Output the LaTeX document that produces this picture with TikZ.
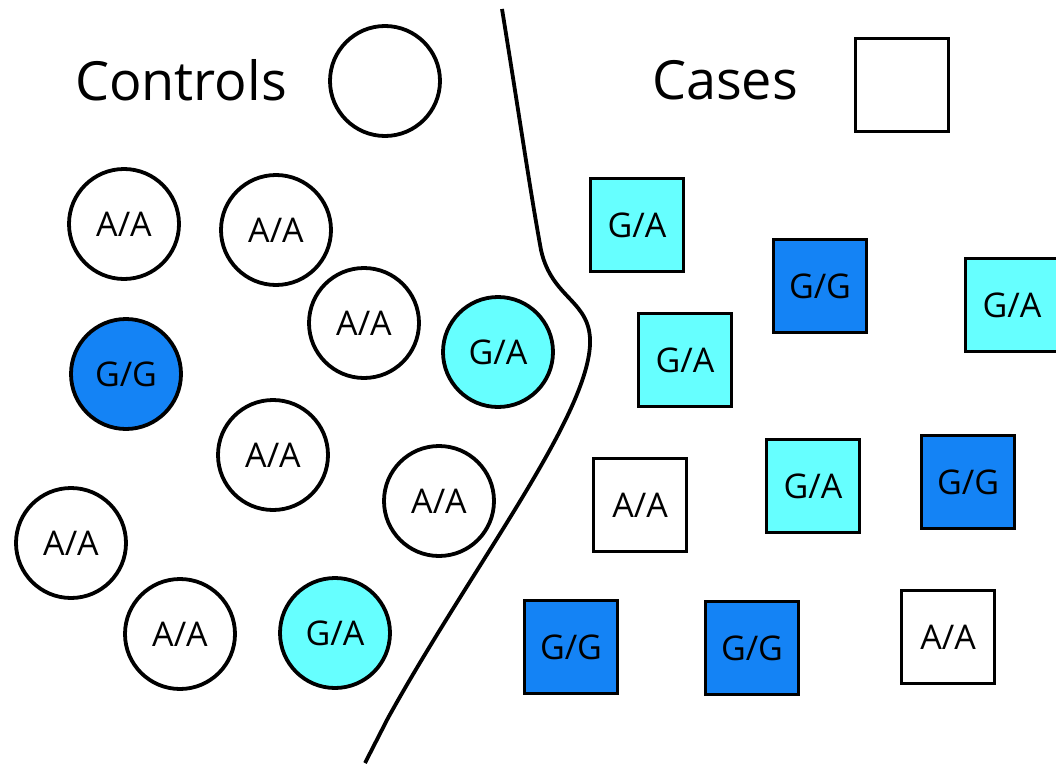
\documentclass[tikz,border=0pt]{standalone}
\usepackage{fontspec}
\setmainfont{Open Sans}
\definecolor{cyanfill}{HTML}{66FFFF}
\definecolor{bluefill}{HTML}{1483F5}
\tikzset{
  ctrl/.style={circle,draw=black,line width=3.8pt,minimum size=110pt,inner sep=0pt,font=\fontsize{34}{38}\selectfont},
  cas/.style={rectangle,draw=black,line width=3.8pt,minimum size=93pt,inner sep=0pt,font=\fontsize{34}{38}\selectfont},
  aa/.style={fill=white},
  ga/.style={fill=cyanfill},
  gg/.style={fill=bluefill},
  title/.style={font=\fontsize{54}{60}\selectfont,inner sep=0pt},
  divider/.style={draw=black,line width=3.8pt}
}
\begin{document}
\begin{tikzpicture}[x=1pt,y=-1pt]
\useasboundingbox (0,0) rectangle (1056,765);
\begin{scope}
\clip (0,0) rectangle (1056,765);
% legend
\node[title,anchor=center] (tctrl) at (181,80) {Controls};
\node[ctrl,aa] (lctrl) at (385,81) {};
\node[title,anchor=center] (tcase) at (725,80) {Cases};
\node[cas,aa] (lcase) at (902,85) {};
% controls
\node[ctrl,aa] (c1) at (124,224) {A/A};
\node[ctrl,aa] (c2) at (276,230) {A/A};
\node[ctrl,aa] (c3) at (364,323) {A/A};
\node[ctrl,ga] (c4) at (498,352) {G/A};
\node[ctrl,gg] (c5) at (126,374) {G/G};
\node[ctrl,aa] (c6) at (273,455) {A/A};
\node[ctrl,aa] (c7) at (439,501) {A/A};
\node[ctrl,aa] (c8) at (71,543) {A/A};
\node[ctrl,aa] (c9) at (180,634) {A/A};
\node[ctrl,ga] (c10) at (335,633) {G/A};
% cases
\node[cas,ga] (s1) at (637,225) {G/A};
\node[cas,gg] (s2) at (820,286) {G/G};
\node[cas,ga] (s3) at (1012,305) {G/A};
\node[cas,ga] (s4) at (685,360) {G/A};
\node[cas,aa] (s5) at (640,505) {A/A};
\node[cas,ga] (s6) at (813,486) {G/A};
\node[cas,gg] (s7) at (968,482) {G/G};
\node[cas,gg] (s8) at (571,647) {G/G};
\node[cas,gg] (s9) at (752,648) {G/G};
\node[cas,aa] (s10) at (948,637) {A/A};
% divider
\coordinate (d0) at (502,9);
\coordinate (d1) at (541,250);
\coordinate (d2) at (590,345);
\coordinate (d3) at (388,718);
\coordinate (d4) at (365,763);
\draw[divider] (d0) .. controls (520,120) and (530,190) .. (d1)
  .. controls (552,300) and (592,300) .. (d2)
  .. controls (586,420) and (470,570) .. (d3) -- (d4);
\end{scope}
\end{tikzpicture}
\end{document}
